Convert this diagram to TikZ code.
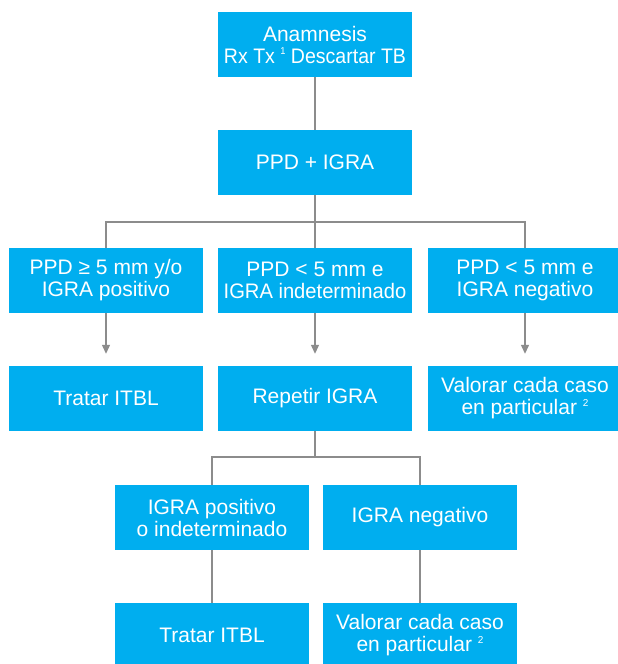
\documentclass[tikz,border=0pt]{standalone}
\usepackage{fontspec}
\usepackage{graphicx}
\setmainfont{Liberation Sans}
\usetikzlibrary{arrows.meta}
\definecolor{boxblue}{HTML}{00AEEF}
\definecolor{linegray}{HTML}{8C8C8C}
\newcommand{\mysup}[1]{\raisebox{0.8ex}{\fontsize{10}{10}\selectfont #1}}
\tikzset{
  stepbox/.style={fill=boxblue, draw=none, text=white, inner sep=0pt,
    minimum width=194pt, minimum height=65pt, align=center,
    font=\fontsize{21}{22}\selectfont},
  conn/.style={draw=linegray, line width=1.2pt},
  arr/.style={conn, -{Triangle[length=9pt,width=8pt]}, shorten >=12pt}
}
\begin{document}
\begin{tikzpicture}[x=1pt,y=-1pt]
\clip (0,0) rectangle (618,664);
\fill[white] (0,0) rectangle (618,664);
% nodes
\node[stepbox] (top) at (315,44.5) {Anamnesis\\\scalebox{0.93}[1]{Rx Tx \mysup{1} Descartar TB}};
\node[stepbox] (ppd) at (315,162.5) {PPD + IGRA};
\node[stepbox] (r2a) at (106,280.5) {PPD ≥ 5 mm y/o\\IGRA positivo};
\node[stepbox] (r2b) at (315,280.5) {PPD < 5 mm e\\\scalebox{0.96}[1]{IGRA indeterminado}};
\node[stepbox] (r2c) at (525,280.5) {PPD < 5 mm e\\IGRA negativo};
\node[stepbox] (r3a) at (106,398.5) {Tratar ITBL};
\node[stepbox] (r3b) at (315,398.5) {Repetir IGRA};
\node[stepbox] (r3c) at (525,398.5) {Valorar cada caso\\en particular \mysup{2}};
\node[stepbox] (r4a) at (212,517.5) {IGRA positivo\\o indeterminado};
\node[stepbox] (r4b) at (420,517.5) {IGRA negativo};
\node[stepbox] (r5a) at (212,635.5) {Tratar ITBL};
\node[stepbox] (r5b) at (420,635.5) {Valorar cada caso\\en particular \mysup{2}};
% connectors
\coordinate (j1) at (315,222);
\coordinate (j2) at (315,457);
\draw[conn] (top.south) -- (ppd.north);
\draw[conn] (ppd.south) -- (r2b.north);
\draw[conn] (j1) -| (r2a.north);
\draw[conn] (j1) -| (r2c.north);
\draw[arr] (r2a.south) -- (r3a.north);
\draw[arr] (r2b.south) -- (r3b.north);
\draw[arr] (r2c.south) -- (r3c.north);
\draw[conn] (r3b.south) -- (j2);
\draw[conn] (j2) -| (r4a.north);
\draw[conn] (j2) -| (r4b.north);
\draw[conn] (r4a.south) -- (r5a.north);
\draw[conn] (r4b.south) -- (r5b.north);
\end{tikzpicture}
\end{document}
